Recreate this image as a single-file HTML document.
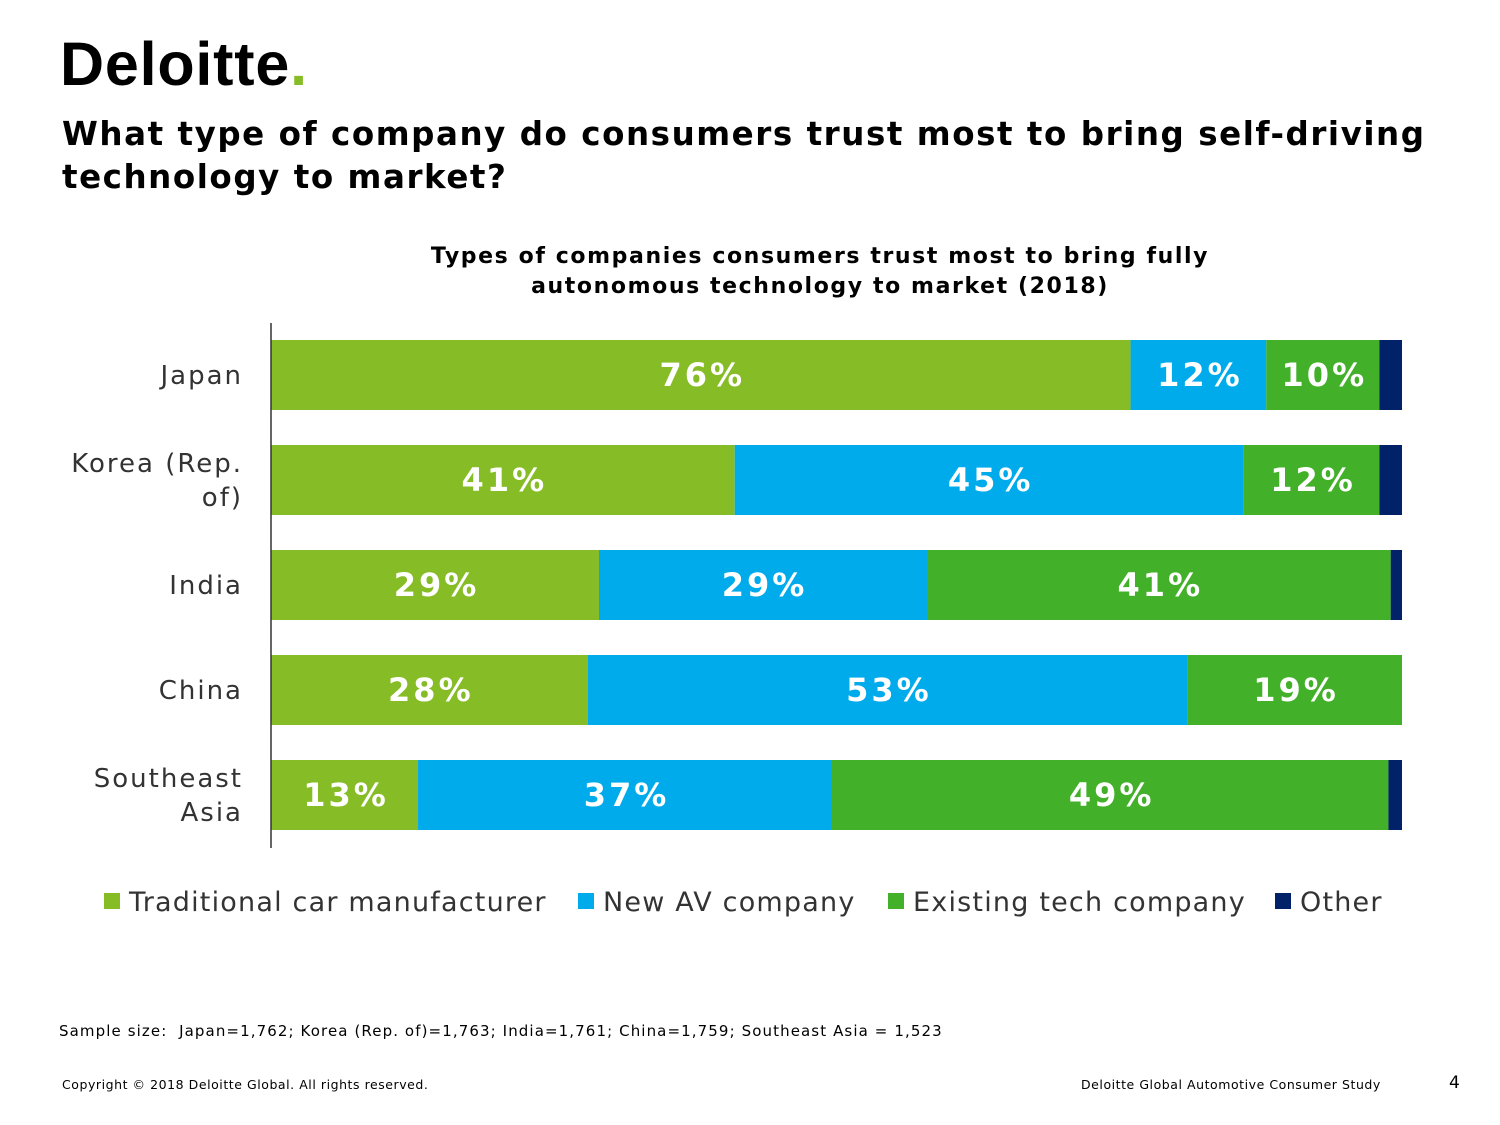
<!DOCTYPE html>
<html><head><meta charset="utf-8">
<style>
body{margin:0;background:#fff;font-family:"DejaVu Sans","Liberation Sans",sans-serif;}
#wrap{position:relative;width:1500px;height:1125px;overflow:hidden;}
.abs{position:absolute;white-space:nowrap;}
</style></head>
<body>
<div id="wrap">
<div class="abs" style="left:60px;top:29px;font-family:'Liberation Sans',sans-serif;font-weight:bold;font-size:61px;letter-spacing:0.8px;color:#000;">Deloitte<span style="color:#86bc25;">.</span></div>
<div class="abs" style="left:62px;top:113px;font-weight:bold;font-size:32.5px;letter-spacing:1.55px;line-height:43px;color:#000;">What type of company do consumers trust most to bring self-driving<br>technology to market?</div>
<div class="abs" style="left:370px;top:242px;width:900px;text-align:center;font-weight:bold;font-size:22px;letter-spacing:1.6px;line-height:30px;color:#000;">Types of companies consumers trust most to bring fully<br>autonomous technology to market (2018)</div>
<svg id="chart" width="1500" height="1125" style="position:absolute;left:0;top:0;"></svg>
<div class="abs" style="left:59px;top:1022px;font-size:15px;letter-spacing:1.1px;color:#000;">Sample size:&nbsp; Japan=1,762; Korea (Rep. of)=1,763; India=1,761; China=1,759; Southeast Asia = 1,523</div>
<div class="abs" style="left:62px;top:1077px;font-size:12.5px;letter-spacing:0.55px;color:#000;">Copyright © 2018 Deloitte Global. All rights reserved.</div>
<div class="abs" style="left:1081px;top:1077px;font-size:12.5px;letter-spacing:0.55px;color:#000;">Deloitte Global Automotive Consumer Study</div>
<div class="abs" style="left:1449px;top:1073px;font-size:17px;color:#000;">4</div>
</div>
<script>
const categories=["Japan","Korea (Rep.|of)","India","China","Southeast|Asia"];
const seriesNames=["Traditional car manufacturer","New AV company","Existing tech company","Other"];
const traditional=[76,41,29,28,13];
const newAV=[12,45,29,53,36.6];
const existingTech=[10,12,41,19,49.2];
const other=[2,2,1,0,1.2];
const colors=["#86bc25","#00abec","#43b02a","#012169"];
const series=[traditional,newAV,existingTech,other];
const svg=document.getElementById('chart');
const NS='http://www.w3.org/2000/svg';
const x0=271,x1=1402,rowTop=340,rowStep=105,barH=70;
function xs(v){return x0+(x1-x0)*v/100;}
function yc(i){return rowTop+barH/2+i*rowStep;}
function mk(t,a){const e=document.createElementNS(NS,t);for(const k in a)e.setAttribute(k,a[k]);svg.appendChild(e);return e;}
categories.forEach((c,i)=>{
  let acc=0;
  series.forEach((s,j)=>{
    const v=s[i];if(v<=0)return;
    const r=mk('rect',{x:xs(acc),y:yc(i)-barH/2,width:xs(acc+v)-xs(acc),height:barH,fill:colors[j]});
    
    
    if(j<3){
      const t=mk('text',{x:(xs(acc)+xs(acc+v))/2+1.5,y:yc(i)+11,'text-anchor':'middle','font-size':32,'font-weight':'bold','letter-spacing':3,fill:'#fff'});
      t.textContent=Math.round(v)+'%';
      
      
    }
    acc+=v;
  });
  const lines=c.split('|');
  lines.forEach((ln,k)=>{
    const t=mk('text',{x:243,y:yc(i)+9+(k-(lines.length-1)/2)*34,'text-anchor':'end','font-size':26,'letter-spacing':2,fill:'#333'});
    t.textContent=ln;
    
    
  });
});
const ax=mk('line',{x1:x0,y1:323,x2:x0,y2:848,stroke:'#333','stroke-width':1.5});


const legX=[104,578,888,1275];
seriesNames.forEach((n,j)=>{
  const r=mk('rect',{x:legX[j],y:893,width:16,height:16,fill:colors[j]});
  
  
  const t=mk('text',{x:legX[j]+25,y:911,'font-size':27,'letter-spacing':1.2,fill:'#333'});
  t.textContent=n;
  
  
});
</script>
</body></html>
